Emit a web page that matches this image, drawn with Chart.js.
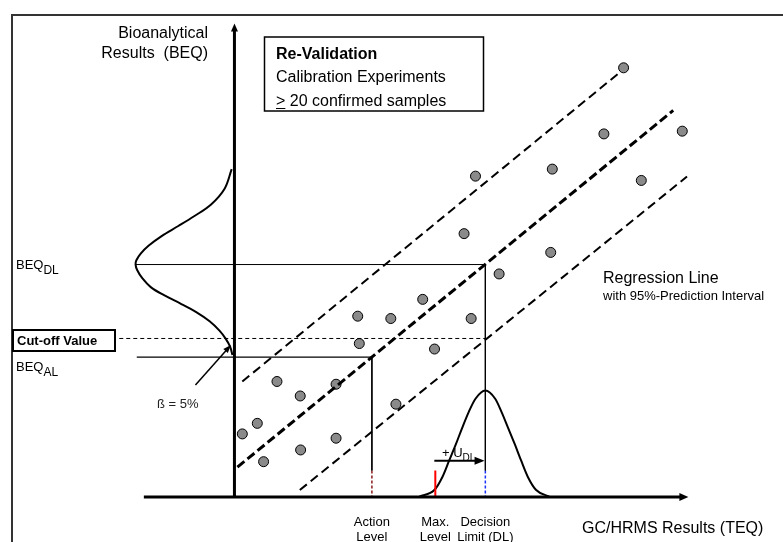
<!DOCTYPE html>
<html>
<head>
<meta charset="utf-8">
<script src="https://cdn.jsdelivr.net/npm/chart.js@4/dist/chart.umd.min.js"></script>
<style>
html, body { margin: 0; padding: 0; background: #fff; }
#wrap { width: 783px; height: 542px; }
</style>
</head>
<body>
<div id="wrap"><canvas id="chart" width="783" height="542"></canvas></div>
<script>
'use strict';

// calibration samples (GC/HRMS TEQ vs bioanalytical BEQ, arbitrary units)
var sampleTeq = [9.88, 9.38, 11.37, 8.07, 10.33, 6.12, 5.83, 8.03, 6.72, 4.78, 3.13, 3.97,
    6.01, 3.17, 5.08, 1.08, 2.58, 1.67, 4.10, 0.58, 0.20, 2.58, 1.68, 0.74];
var sampleBeq = [10.97, 9.28, 9.35, 8.38, 8.09, 8.20, 6.73, 6.25, 5.70, 5.05, 4.62, 4.56,
    4.56, 3.92, 3.78, 2.95, 2.88, 2.58, 2.37, 1.88, 1.61, 1.50, 1.20, 0.90];

// regression line and 95% prediction interval (start / end)
var regTeq = [0.075, 11.14];
var regBeq = [0.76, 9.88];
var upperPiTeq = [0.20, 9.78];
var upperPiBeq = [2.95, 10.85];
var lowerPiTeq = [1.66, 11.49];
var lowerPiBeq = [0.175, 8.19];

// levels
var actionLevel = 3.49;
var maxLevel = 5.1;
var decisionLimit = 6.37;
var beqAL = 3.575;
var cutOff = 4.05;
var beqDL = 5.94;

// distribution of GC/HRMS results around the decision limit
var teqBellX = [4.70, 5.075, 5.28, 5.45, 5.62, 5.78, 5.95, 6.12, 6.37, 6.62, 6.78, 6.95, 7.12, 7.28, 7.45, 7.66, 7.99];
var teqBellY = [0.01, 0.175, 0.51, 0.925, 1.34, 1.76, 2.175, 2.51, 2.72, 2.51, 2.175, 1.76, 1.34, 0.925, 0.51, 0.175, 0.01];

// distribution of bioanalytical results around BEQ_DL (drawn sideways)
var beqBellX = [-0.07, -0.25, -0.60, -1.025, -1.425, -1.84, -2.175, -2.38, -2.49, -2.51,
    -2.47, -2.34, -2.125, -1.80, -1.38, -0.97, -0.63, -0.38, -0.22, -0.11, -0.05];
var beqBellY = [8.38, 7.88, 7.47, 7.175, 6.925, 6.675, 6.425, 6.22, 6.05, 5.94,
    5.80, 5.59, 5.3625, 5.1625, 4.95, 4.725, 4.49, 4.25, 4.04, 3.84, 3.625];

var FONT = '"Liberation Sans", Arial, sans-serif';

function pts(xs, ys) {
    return xs.map(function (x, i) { return { x: x, y: ys[i] }; });
}

function lineSet(data, color, width, dash, tension) {
    return {
        data: data,
        showLine: true,
        borderColor: color,
        borderWidth: width,
        borderDash: dash || [],
        tension: tension || 0,
        pointRadius: 0,
        pointHoverRadius: 0,
        fill: false
    };
}

function arrowHead(ctx, x1, y1, x2, y2, len, half) {
    var a = Math.atan2(y2 - y1, x2 - x1);
    ctx.beginPath();
    ctx.moveTo(x2, y2);
    ctx.lineTo(x2 - len * Math.cos(a) + half * Math.sin(a), y2 - len * Math.sin(a) - half * Math.cos(a));
    ctx.lineTo(x2 - len * Math.cos(a) - half * Math.sin(a), y2 - len * Math.sin(a) + half * Math.cos(a));
    ctx.closePath();
    ctx.fill();
}

function text(ctx, s, x, y, size, bold, align) {
    ctx.font = (bold ? 'bold ' : '') + size + 'px ' + FONT;
    ctx.textAlign = align || 'left';
    ctx.textBaseline = 'alphabetic';
    ctx.fillText(s, x, y);
    return ctx.measureText(s).width;
}

function subText(ctx, main, sub, x, y, size, subSize, drop) {
    var w = text(ctx, main, x, y, size, false);
    text(ctx, sub, x + w, y + drop, subSize, false);
}

var decor = {
    id: 'decor',
    beforeDatasetsDraw: function (chart) {
        var ctx = chart.ctx;
        ctx.save();
        // outer frame
        ctx.strokeStyle = '#333';
        ctx.lineWidth = 2;
        ctx.beginPath();
        ctx.moveTo(12, 542);
        ctx.lineTo(12, 15);
        ctx.lineTo(783, 15);
        ctx.stroke();
        ctx.restore();
    },
    afterDatasetsDraw: function (chart) {
        var ctx = chart.ctx;
        var sx = chart.scales.x, sy = chart.scales.y;
        var x0 = sx.getPixelForValue(0), y0 = sy.getPixelForValue(0);
        ctx.save();
        ctx.fillStyle = '#000';
        ctx.strokeStyle = '#000';

        // axes
        var yTop = sy.getPixelForValue(12.1);
        var xStart = sx.getPixelForValue(-2.3);
        var xEnd = sx.getPixelForValue(11.525);
        ctx.lineWidth = 3;
        ctx.beginPath();
        ctx.moveTo(x0, y0 + 1.5);
        ctx.lineTo(x0, yTop + 6);
        ctx.moveTo(xStart, y0);
        ctx.lineTo(xEnd - 6, y0);
        ctx.stroke();
        arrowHead(ctx, x0, y0, x0, yTop, 8, 3.5);
        arrowHead(ctx, xStart, y0, xEnd, y0, 9, 4);

        // + U_DL arrow
        var ay = sy.getPixelForValue(0.925);
        var ax1 = sx.getPixelForValue(5.075), ax2 = sx.getPixelForValue(6.35);
        ctx.lineWidth = 2;
        ctx.beginPath();
        ctx.moveTo(ax1, ay);
        ctx.lineTo(ax2 - 6, ay);
        ctx.stroke();
        arrowHead(ctx, ax1, ay, ax2, ay, 10, 4);

        // beta arrow
        var bx1 = sx.getPixelForValue(-0.99), by1 = sy.getPixelForValue(2.86);
        var bx2 = sx.getPixelForValue(-0.09), by2 = sy.getPixelForValue(3.88);
        ctx.lineWidth = 1.5;
        ctx.beginPath();
        ctx.moveTo(bx1, by1);
        ctx.lineTo(bx2 - 3, by2 + 3.5);
        ctx.stroke();
        arrowHead(ctx, bx1, by1, bx2, by2, 8, 3);

        // boxes
        ctx.lineWidth = 1.5;
        ctx.strokeRect(264.5, 37, 219, 74);
        ctx.lineWidth = 2;
        ctx.fillStyle = '#fff';
        ctx.fillRect(13, 330, 102, 21);
        ctx.strokeRect(13, 330, 102, 21);
        ctx.fillStyle = '#000';

        // texts
        text(ctx, 'Bioanalytical', 208, 38, 16, false, 'right');
        text(ctx, 'Results  (BEQ)', 208, 58, 16, false, 'right');
        text(ctx, 'Re-Validation', 276, 59, 16, true);
        text(ctx, 'Calibration Experiments', 276, 82, 16, false);
        var gw = text(ctx, '>', 276, 106, 16, false);
        text(ctx, ' 20 confirmed samples', 276 + gw, 106, 16, false);
        ctx.lineWidth = 1;
        ctx.beginPath();
        ctx.moveTo(276, 108.5);
        ctx.lineTo(276 + gw, 108.5);
        ctx.stroke();

        subText(ctx, 'BEQ', 'DL', 16, 269, 13, 12, 5);
        text(ctx, 'Cut-off Value', 17, 345, 13, true);
        subText(ctx, 'BEQ', 'AL', 16, 371, 13, 12, 5);
        ctx.fillStyle = '#222';
        text(ctx, 'ß = 5%', 157, 408, 13, false);
        ctx.fillStyle = '#000';

        text(ctx, 'Regression Line', 603, 283, 16, false);
        text(ctx, 'with 95%-Prediction Interval', 603, 300, 13, false);
        text(ctx, 'GC/HRMS Results (TEQ)', 582, 533, 16, false);

        var axL = sx.getPixelForValue(actionLevel);
        var mxL = sx.getPixelForValue(maxLevel);
        var dcL = sx.getPixelForValue(decisionLimit);
        text(ctx, 'Action', axL, 526, 13, false, 'center');
        text(ctx, 'Level', axL, 541, 13, false, 'center');
        text(ctx, 'Max.', mxL, 526, 13, false, 'center');
        text(ctx, 'Level', mxL, 541, 13, false, 'center');
        text(ctx, 'Decision', dcL, 526, 13, false, 'center');
        text(ctx, 'Limit (DL)', dcL, 541, 13, false, 'center');

        subText(ctx, '+ U', 'DL', 442, 457, 13, 10, 3.5);
        ctx.restore();
    }
};

var tick = 0.675; // height where the coloured level markers start

var teqBell = lineSet(pts(teqBellX, teqBellY), '#000', 2);
teqBell.cubicInterpolationMode = 'monotone';

var datasets = [
    lineSet(pts(upperPiTeq, upperPiBeq), '#000', 2, [9, 5]),
    lineSet(pts(regTeq, regBeq), '#000', 3, [9, 4]),
    lineSet(pts(lowerPiTeq, lowerPiBeq), '#000', 2, [9, 5]),
    lineSet(pts([-2.48, actionLevel], [beqAL, beqAL]), '#000', 1.2),
    lineSet(pts([-2.5, decisionLimit], [beqDL, beqDL]), '#000', 1),
    lineSet(pts([-2.925, decisionLimit], [cutOff, cutOff]), '#000', 1, [4, 3]),
    lineSet(pts([actionLevel, actionLevel], [beqAL, tick]), '#000', 1),
    lineSet(pts([actionLevel, actionLevel], [tick, 0]), '#8b1a1a', 1.5, [3, 2]),
    lineSet(pts([decisionLimit, decisionLimit], [beqDL, tick]), '#000', 1),
    lineSet(pts([decisionLimit, decisionLimit], [tick, 0]), '#1a33ff', 1.5, [3, 2]),
    lineSet(pts([maxLevel, maxLevel], [tick, 0]), '#ff0000', 2),
    teqBell,
    lineSet(pts(beqBellX, beqBellY), '#000', 2, [], 0.35),
    {
        data: pts(sampleTeq, sampleBeq),
        pointRadius: 5,
        pointHoverRadius: 5,
        pointBackgroundColor: '#8a8a8a',
        pointBorderColor: '#000',
        pointBorderWidth: 1,
        showLine: false
    }
];

new Chart(document.getElementById('chart'), {
    type: 'scatter',
    data: { datasets: datasets },
    options: {
        responsive: false,
        animation: false,
        devicePixelRatio: 1,
        events: [],
        layout: { padding: 0 },
        plugins: {
            legend: { display: false },
            tooltip: { enabled: false },
            title: { display: false }
        },
        scales: {
            x: { type: 'linear', display: false, min: -5.8, max: 13.775 },
            y: { type: 'linear', display: false, min: -1.0, max: 12.55 }
        }
    },
    plugins: [decor]
});
</script>
</body>
</html>
